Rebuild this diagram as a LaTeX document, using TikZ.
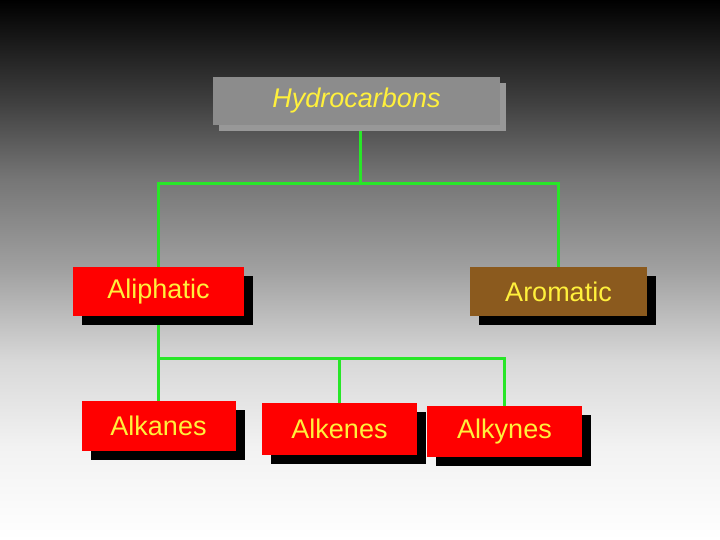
\documentclass[tikz,border=0pt]{standalone}
\usepackage{fontspec}
\setmainfont{Liberation Sans}
\usetikzlibrary{shadows}
\definecolor{busgreen}{RGB}{40,230,40}
\definecolor{boxred}{RGB}{255,0,0}
\definecolor{boxbrown}{RGB}{139,90,30}
\definecolor{boxgray}{RGB}{140,140,140}
\definecolor{grayshade}{RGB}{152,152,152}
\definecolor{textyellow}{RGB}{255,240,60}
\pgfdeclareverticalshading{bgfade}{100bp}{color(0bp)=(white); color(25bp)=(white);
  color(33.5bp)=(white!95!black); color(41.5bp)=(white!85!black);
  color(50bp)=(white!63!black); color(58.5bp)=(white!46!black);
  color(65.5bp)=(white!25!black); color(75bp)=(black); color(100bp)=(black)}
\begin{document}
\begin{tikzpicture}[x=1pt, y=-1pt, font=\fontsize{27}{30}\selectfont,
  kind/.style={rectangle, inner sep=0pt, text=textyellow, minimum height=49pt},
  darkshadow/.style={general shadow={fill=black, shadow xshift=9pt, shadow yshift=-9pt}},
  link/.style={busgreen, line width=3pt}]
  \useasboundingbox (0,0) rectangle (720,540);
  \shade[shading=bgfade] (0,0) rectangle (720,540);
  % top level
  \node[kind, fill=boxgray, minimum width=287pt, minimum height=48pt,
    general shadow={fill=grayshade, shadow xshift=6pt, shadow yshift=-6pt}]
    (hydro) at (356.5,101) {\itshape Hydrocarbons};
  % second level
  \node[kind, darkshadow, fill=boxred, minimum width=171pt] (aliph) at (158.5,291.5) {Aliphatic};
  \node[kind, darkshadow, fill=boxbrown, minimum width=177pt] (arom) at (558.5,291.5) {Aromatic};
  % third level
  \node[kind, darkshadow, fill=boxred, minimum width=154pt, minimum height=50pt] (alkan) at (158.5,426) {Alkanes};
  \node[kind, darkshadow, fill=boxred, minimum width=155pt, minimum height=52pt] (alken) at (339.5,429) {Alkenes};
  \node[kind, darkshadow, fill=boxred, minimum width=155pt, minimum height=51pt] (alkyn) at (504.5,431.5) {Alkynes};
  % connectors
  \coordinate (bus1) at (360,184);
  \coordinate (bus2) at (158.5,358);
  \draw[link] (hydro.south -| bus1) ++(0,6) -- (bus1);
  \draw[link] (aliph.north) |- (bus1) -| (arom.north);
  \draw[link] ([yshift=-9pt]aliph.south) -- (alkan.north);
  \draw[link] (bus2) -| (alkyn.north);
  \draw[link] (bus2 -| alken.north) -- (alken.north);
\end{tikzpicture}
\end{document}
